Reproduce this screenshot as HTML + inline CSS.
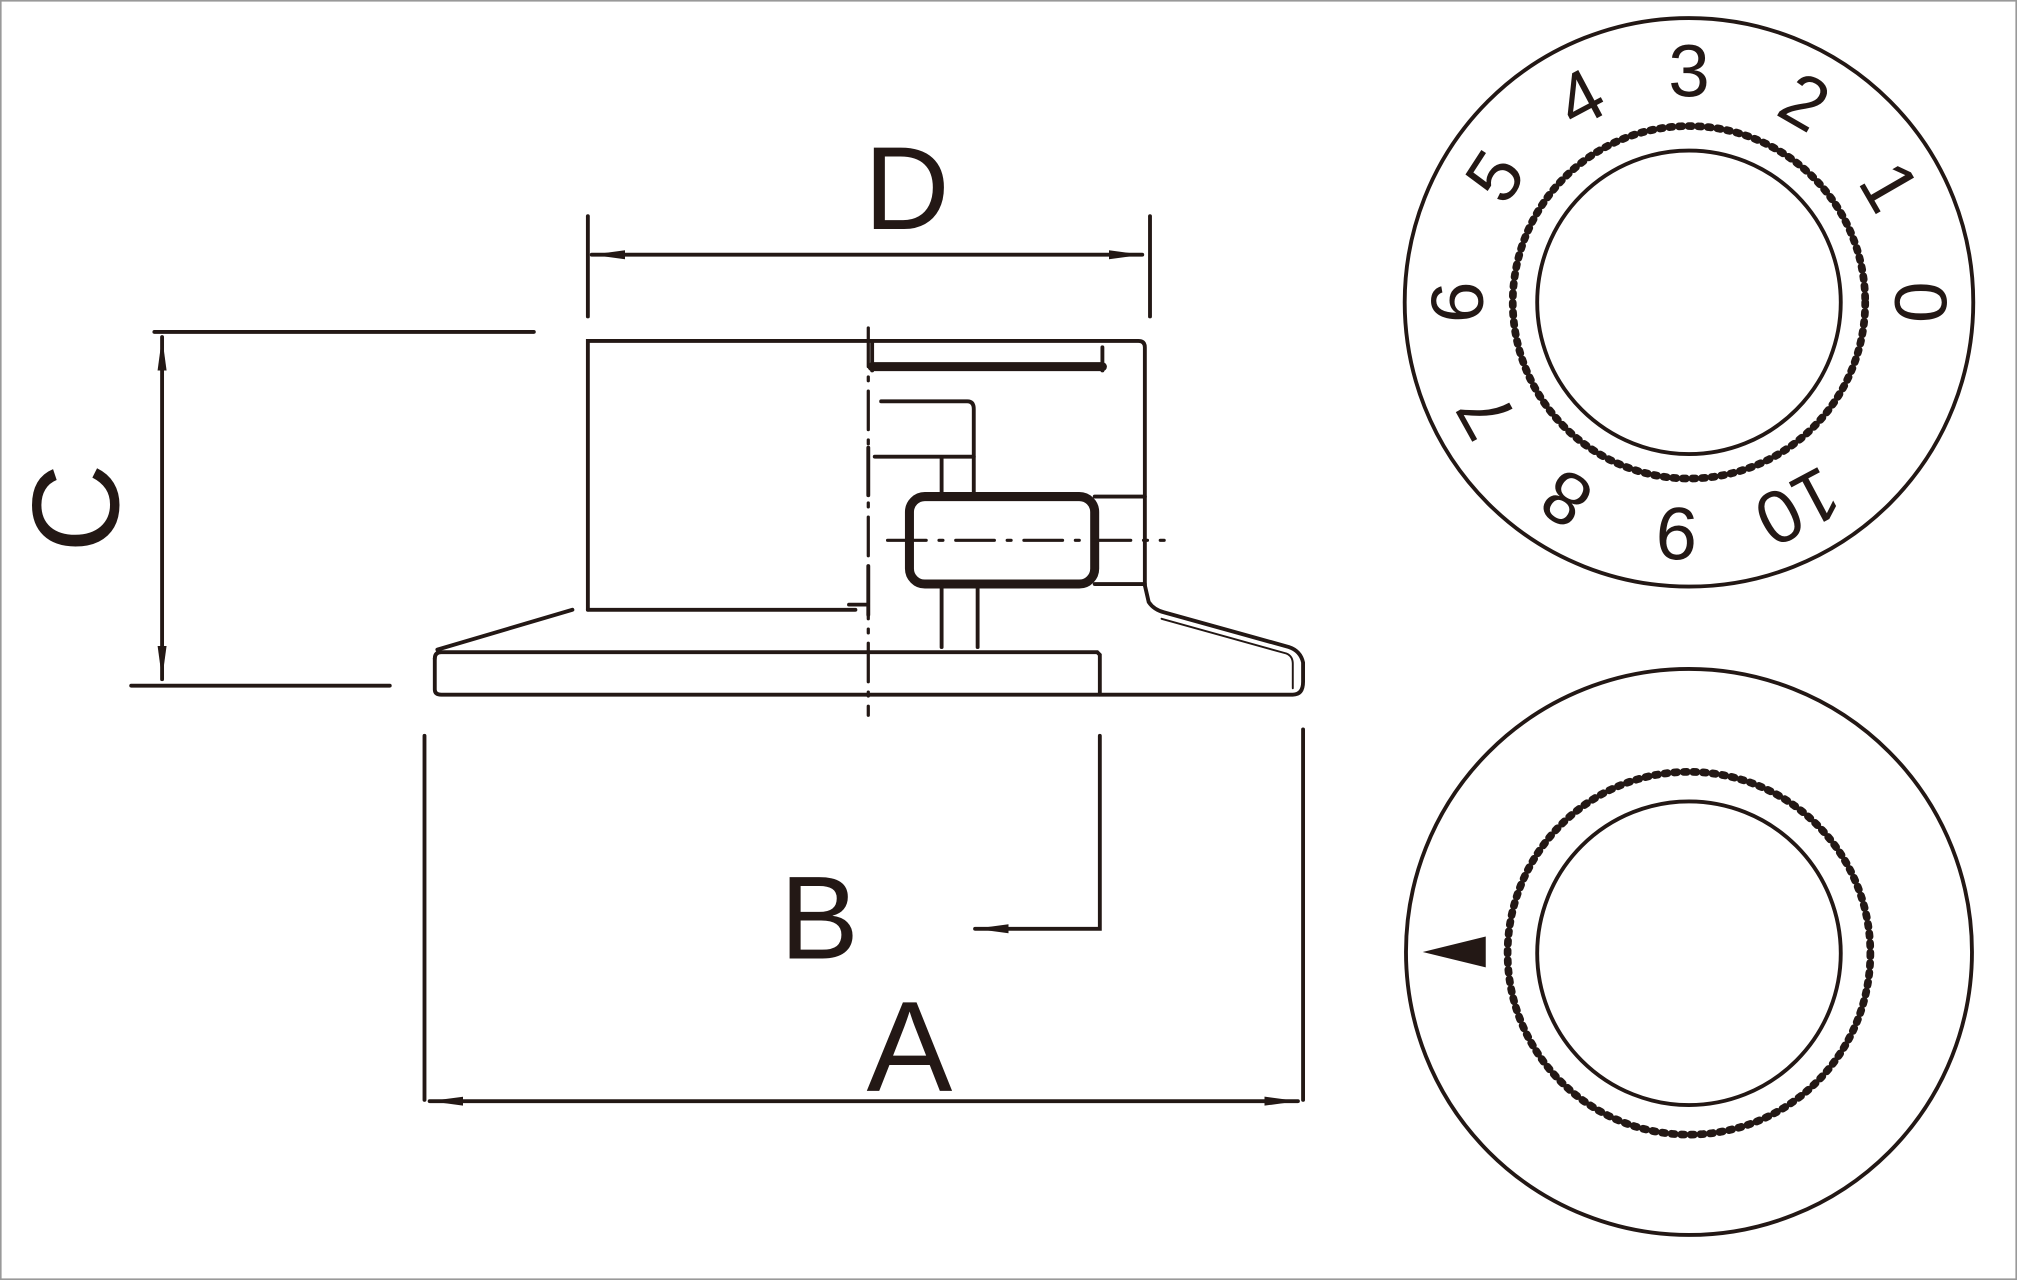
<!DOCTYPE html>
<html><head><meta charset="utf-8"><style>
html,body{margin:0;padding:0;background:#fff;}
svg{display:block;}
text{font-family:"Liberation Sans",sans-serif;fill:#231815;}
</style></head><body>
<svg width="2017" height="1280" viewBox="0 0 1568 995" preserveAspectRatio="none" xmlns="http://www.w3.org/2000/svg">
<defs>
<marker id="ar" viewBox="0 0 26 10" refX="26" refY="5" markerWidth="26" markerHeight="10" markerUnits="userSpaceOnUse" orient="auto-start-reverse"><path d="M0,1.5 L26,5 L0,8.5 Z" fill="#231815"/></marker>
</defs>
<rect x="0.5" y="0.5" width="1567" height="994" fill="none" stroke="#999" stroke-width="1.5"/>
<g stroke="#231815" stroke-width="3" fill="none" stroke-linecap="round">
<line x1="457" y1="168" x2="457" y2="246"/>
<line x1="894" y1="168" x2="894" y2="246"/>
<line x1="460" y1="198" x2="888" y2="198" marker-start="url(#ar)" marker-end="url(#ar)"/>
<line x1="120" y1="258" x2="415" y2="258"/>
<line x1="102" y1="533" x2="303" y2="533"/>
<line x1="126" y1="262" x2="126" y2="528" marker-start="url(#ar)" marker-end="url(#ar)"/>
<path d="M457,474 L457,265 L885,265 Q890,265 890,270 L890,455"/>
<line x1="457" y1="474" x2="665" y2="474"/>
<path d="M340,505 L445,474"/>
<path d="M678,285 L857,285" stroke-width="7"/>
<path d="M678,265 L678,288 M857,270 L857,288"/>
<path d="M685,312 L752,312 Q757,312 757,318 L757,385"/>
<path d="M680,355 L757,355 M732,355 L732,385"/>
<path d="M675,348 L675,385 M675,440 L675,478 M660,470 L675,470"/>
<rect x="707" y="386" width="144" height="68" rx="12" stroke-width="7"/>
<line x1="851" y1="386" x2="890" y2="386"/>
<line x1="851" y1="454" x2="890" y2="454"/>
<line x1="732" y1="454" x2="732" y2="503"/>
<line x1="760" y1="454" x2="760" y2="503"/>
<path d="M338,512 Q338,507 343,507 L853,507 L855,509 L855,540"/>
<path d="M338,512 L338,536 Q338,540 343,540 L1005,540 Q1013,540 1013,530 L1013,515 Q1011,506 1002,503 L905,476 Q897,474 893,468 L890,455"/>
<path d="M903,481 L1000,508 Q1005,510 1005,516 L1005,535" stroke-width="1.5"/>
<line x1="675" y1="255" x2="675" y2="556" stroke-dasharray="30,8,3,8" stroke-width="2.5"/>
<line x1="690" y1="420" x2="905" y2="420" stroke-dasharray="30,10,3,10" stroke-width="2.5"/>
<path d="M855,572 L855,722 L758,722" marker-end="url(#ar)"/>
<line x1="330" y1="572" x2="330" y2="855"/>
<line x1="1013" y1="567" x2="1013" y2="855"/>
<line x1="334" y1="856" x2="1009" y2="856" marker-start="url(#ar)" marker-end="url(#ar)"/>
<circle cx="1313" cy="235" r="221"/>
<circle cx="1313" cy="235" r="137" stroke-width="2.5"/>
<circle cx="1313" cy="235" r="137" stroke-width="6" stroke-dasharray="2.5,5"/>
<circle cx="1313" cy="235" r="118" stroke-width="3"/>
<circle cx="1313" cy="740" r="220"/>
<circle cx="1313" cy="741" r="141" stroke-width="2.5"/>
<circle cx="1313" cy="741" r="141" stroke-width="6" stroke-dasharray="2.5,5"/>
<circle cx="1313" cy="741" r="118" stroke-width="3"/>
</g>
<path d="M1106,740 L1155,728 L1155,752 Z" fill="#231815"/>
<text x="705" y="178" font-size="92" text-anchor="middle">D</text>
<text x="0" y="0" font-size="96" text-anchor="middle" transform="translate(92,395) rotate(-90)">C</text>
<text x="637" y="745" font-size="92" text-anchor="middle">B</text>
<text x="707" y="848" font-size="100" text-anchor="middle">A</text>
<g font-size="58" text-anchor="middle">
<text transform="translate(1313,235) rotate(0) translate(0,-160)">3</text>
<text transform="translate(1313,235) rotate(30) translate(0,-160)">2</text>
<text transform="translate(1313,235) rotate(60) translate(0,-160)">1</text>
<text transform="translate(1313,235) rotate(90) translate(0,-160)">0</text>
<text transform="translate(1313,235) rotate(152) translate(0,-160)">10</text>
<text transform="translate(1313,235) rotate(183) translate(0,-160)">9</text>
<text transform="translate(1313,235) rotate(212) translate(0,-160)">8</text>
<text transform="translate(1313,235) rotate(241) translate(0,-160)">7</text>
<text transform="translate(1313,235) rotate(270) translate(0,-160)">6</text>
<text transform="translate(1313,235) rotate(303) translate(0,-160)">5</text>
<text transform="translate(1313,235) rotate(332) translate(0,-160)">4</text>
</g>
</svg>
</body></html>
